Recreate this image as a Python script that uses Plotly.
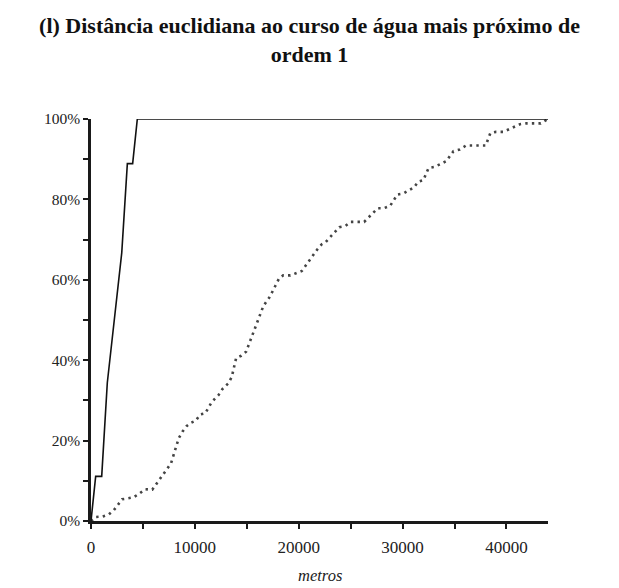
import plotly.graph_objects as go

# Cumulative share of points by distance (metres) to the nearest order-1 stream
dist_solid = [0, 450, 1030, 1570, 2960, 3500, 4010, 4460, 44000]
cum_solid = [0.0, 0.111, 0.111, 0.344, 0.667, 0.889, 0.889, 1.0, 1.0]

dist_dotted = [0, 480, 1100, 1700, 2200, 3000, 3500, 4100, 4700, 5200, 5900, 6200,
               7700, 8450, 8800, 9200, 9600, 10100, 10500, 11000, 11340, 11650,
               12270, 12650, 13200, 13550, 13970, 14450, 14930, 16300, 16600,
               17200, 18100, 18500, 19200, 19800, 20300, 21800, 22200, 22600,
               23900, 24500, 25000, 26300, 27600, 28200, 28800, 29500, 30100,
               31100, 31500, 32000, 32500, 33100, 34200, 34900, 35500, 36100,
               38000, 38450, 39000, 39700, 41300, 41900, 43300, 44000]
cum_dotted = [0.0, 0.010, 0.011, 0.016, 0.027, 0.054, 0.056, 0.059, 0.069, 0.079,
              0.078, 0.089, 0.143, 0.206, 0.222, 0.236, 0.244, 0.250, 0.265, 0.268,
              0.283, 0.297, 0.313, 0.328, 0.342, 0.358, 0.405, 0.411, 0.421, 0.514,
              0.535, 0.557, 0.603, 0.611, 0.611, 0.617, 0.622, 0.676, 0.688, 0.694,
              0.731, 0.734, 0.744, 0.744, 0.778, 0.778, 0.784, 0.812, 0.815, 0.830,
              0.844, 0.848, 0.878, 0.881, 0.895, 0.920, 0.924, 0.934, 0.934, 0.965,
              0.968, 0.968, 0.987, 0.989, 0.989, 1.0]

x_ticks = [0, 10000, 20000, 30000, 40000]
y_ticks = [0, 0.2, 0.4, 0.6, 0.8, 1.0]
y_labels = ["0%", "20%", "40%", "60%", "80%", "100%"]

serif = "Liberation Serif, Times New Roman, serif"

fig = go.Figure()
fig.add_trace(go.Scatter(
    x=dist_dotted, y=cum_dotted, mode="lines",
    line=dict(color="#444444", width=2.6, dash="2.4px,4.2px"),
    cliponaxis=False, hoverinfo="skip", showlegend=False,
))
fig.add_trace(go.Scatter(
    x=dist_solid, y=cum_solid, mode="lines",
    line=dict(color="#111111", width=1.6),
    cliponaxis=False, hoverinfo="skip", showlegend=False,
))

fig.update_layout(
    width=619, height=588,
    margin=dict(l=91, r=71, t=119, b=67),
    paper_bgcolor="white", plot_bgcolor="white",
    font=dict(family=serif, color="#222222", size=15),
    title=dict(
        text="<b>(l) Distância euclidiana ao curso de água mais próximo de<br>ordem 1</b>",
        x=0.5, xanchor="center", y=0.944, yanchor="middle",
        font=dict(family=serif, size=22, color="#111111"),
    ),
    xaxis=dict(
        range=[0, 44000], tickvals=x_ticks, ticktext=[str(v) for v in x_ticks],
        showgrid=False, zeroline=False, showline=True, linecolor="#1a1a1a",
        linewidth=2.5, ticks="outside", ticklen=5, tickwidth=1.5, tickcolor="#1a1a1a",
        ticklabelstandoff=4, automargin=False,
        minor=dict(tickvals=[5000, 15000, 25000, 35000], ticks="outside", ticklen=5,
                   tickwidth=1.5, tickcolor="#1a1a1a", showgrid=False),
        tickfont=dict(size=17), fixedrange=True,
    ),
    yaxis=dict(
        range=[0, 1.0], tickvals=y_ticks, ticktext=y_labels,
        showgrid=False, zeroline=False, showline=True, linecolor="#1a1a1a",
        linewidth=2.5, ticks="outside", ticklen=5, tickwidth=1.5, tickcolor="#1a1a1a",
        automargin=False,
        minor=dict(tickvals=[0.1, 0.3, 0.5, 0.7, 0.9], ticks="outside", ticklen=5,
                   tickwidth=1.5, tickcolor="#1a1a1a", showgrid=False),
        tickfont=dict(size=15.5), fixedrange=True,
    ),
    annotations=[dict(
        text="<i>metros</i>", xref="x domain", yref="paper", x=0.5, y=-0.135,
        xanchor="center", yanchor="middle", showarrow=False,
        font=dict(family=serif, size=16.5, color="#222222"),
    )],
)

fig.write_html("out.html")
